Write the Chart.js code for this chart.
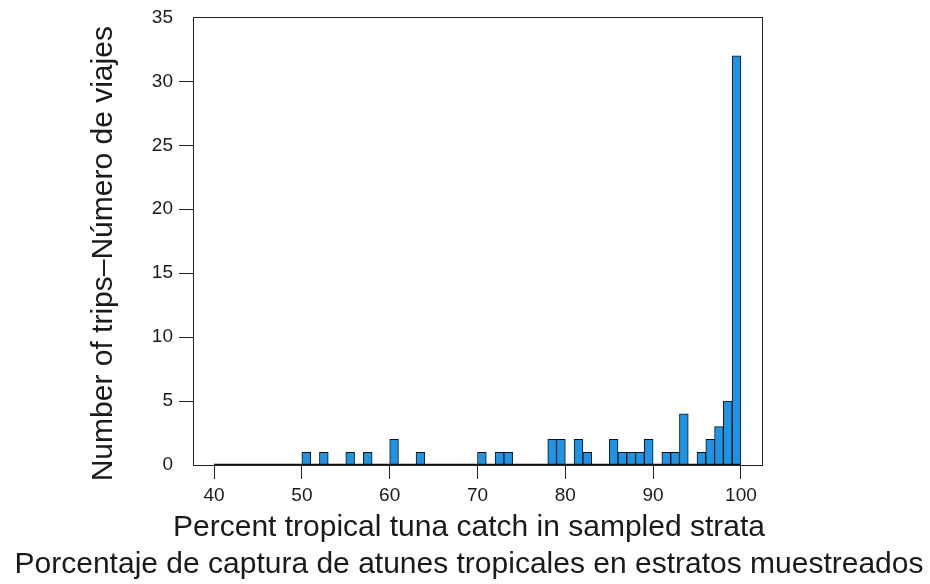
<!DOCTYPE html>
<html lang="en">
<head>
  <meta charset="UTF-8" />
  <title>Percent tropical tuna catch in sampled strata</title>
  <script src="https://cdn.jsdelivr.net/npm/chart.js"></script>
  <style>
    html, body { margin: 0; padding: 0; background: #fff; }
    #wrap { width: 930px; height: 584px; }
  </style>
</head>
<body>
  <div id="wrap"><canvas id="histChart"></canvas></div>

  <script>
    // histogram bins (left edge, width 1) and number of trips in each
    const binStarts = [];
    for (let b = 40; b < 100; b++) binStarts.push(b);
    const tripCounts = [
      0, 0, 0, 0, 0, 0, 0, 0, 0, 0,   // 40-49
      1, 0, 1, 0, 0, 1, 0, 1, 0, 0,   // 50-59
      2, 0, 0, 1, 0, 0, 0, 0, 0, 0,   // 60-69
      1, 0, 1, 1, 0, 0, 0, 0, 2, 2,   // 70-79
      0, 2, 1, 0, 0, 2, 1, 1, 1, 2,   // 80-89
      0, 1, 1, 4, 0, 1, 2, 3, 5, 32   // 90-99
    ];
    const xTicks = [40, 50, 60, 70, 80, 90, 100];
    const yTicks = [0, 5, 10, 15, 20, 25, 30, 35];

    const yTitle = 'Number of trips\u2013Número de viajes';
    const xTitle = [
      'Percent tropical tuna catch in sampled strata',
      'Porcentaje de captura de atunes tropicales en estratos muestreados'
    ];

    const FONT = "'Liberation Sans', Arial, sans-serif";
    const INK = '#1a1a1a';

    const barData = binStarts.map((b, i) => ({ x: b + 0.5, y: tripCounts[i] }));
    const baseLine = [
      { x: binStarts[0], y: 0 },
      { x: binStarts[binStarts.length - 1] + 1, y: 0 }
    ];

    new Chart(document.getElementById('histChart'), {
      type: 'bar',
      data: {
        datasets: [
          {
            label: 'Trips',
            data: barData,
            xAxisID: 'x',
            yAxisID: 'y',
            backgroundColor: '#1f93e4',
            borderColor: '#111',
            borderWidth: 1,
            borderSkipped: 'start',
            barPercentage: 1,
            categoryPercentage: 1,
            grouped: false,
            order: 1
          },
          {
            type: 'line',
            label: 'base',
            data: baseLine,
            xAxisID: 'x',
            yAxisID: 'y',
            borderColor: '#111',
            borderWidth: 2.5,
            pointRadius: 0,
            order: 0
          }
        ]
      },
      options: {
        responsive: true,
        maintainAspectRatio: false,
        animation: false,
        layout: { padding: { left: 8, top: 0, right: 0, bottom: 0 } },
        plugins: {
          legend: { display: false },
          tooltip: { enabled: false },
          title: {
            display: true,
            position: 'bottom',
            text: xTitle,
            color: INK,
            font: { family: FONT, size: 30, weight: 'normal', lineHeight: 37 / 30 },
            padding: { top: 4, bottom: 1 }
          }
        },
        scales: {
          x: {
            type: 'linear',
            position: 'bottom',
            offset: false,
            min: 37.6,
            max: 102.4,
            afterBuildTicks: s => { s.ticks = xTicks.map(v => ({ value: v })); },
            afterFit: s => { s.height = 40; },
            ticks: {
              autoSkip: false,
              maxRotation: 0,
              padding: 5,
              color: INK,
              font: { family: FONT, size: 19 }
            },
            grid: { offset: false, drawOnChartArea: false, tickLength: 14, color: '#222', lineWidth: 1 },
            border: { display: true, color: '#222', width: 1 }
          },
          y: {
            type: 'linear',
            position: 'left',
            min: 0,
            max: 35,
            afterBuildTicks: s => { s.ticks = yTicks.map(v => ({ value: v })); },
            afterFit: s => { s.width = 185; },
            ticks: {
              padding: 6,
              color: INK,
              font: { family: FONT, size: 19 }
            },
            grid: {
              drawOnChartArea: false,
              tickLength: 14,
              lineWidth: 1,
              color: c => (c.tick && (c.tick.value === 0 || c.tick.value === 35)) ? 'rgba(0,0,0,0)' : '#222'
            },
            border: { display: true, color: '#222', width: 1 },
            title: {
              display: true,
              text: yTitle + '\u00a0\u00a0\u00a0',
              color: INK,
              font: { family: FONT, size: 30, weight: 'normal' },
              padding: { top: 78, bottom: 0 }
            }
          },
          // empty axes that hold the top and right edges of the frame
          xTop: {
            type: 'linear',
            position: 'top',
            afterFit: s => { s.height = 15; },
            ticks: { display: false },
            grid: { display: false },
            border: { display: true, color: '#222', width: 1 }
          },
          yRight: {
            type: 'linear',
            position: 'right',
            afterFit: s => { s.width = 168; },
            ticks: { display: false },
            grid: { display: false },
            border: { display: true, color: '#222', width: 1 }
          }
        }
      }
    });
  </script>
</body>
</html>
